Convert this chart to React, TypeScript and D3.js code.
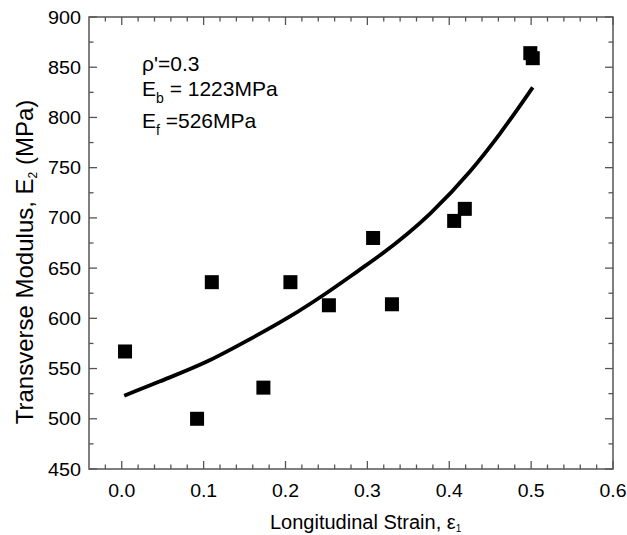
import React, { useEffect, useRef } from "react";
import * as d3 from "d3";

const strainX = [0.004, 0.092, 0.110, 0.173, 0.206, 0.253, 0.307, 0.330, 0.406, 0.419, 0.499, 0.502];
const modulusY = [567, 500, 636, 531, 636, 613, 680, 614, 697, 709, 864, 859];

const curveX = [0.003, 0.046, 0.108, 0.156, 0.205, 0.246, 0.290, 0.315, 0.377, 0.425, 0.462, 0.502];
const curveY = [523, 537, 558.5, 579, 601.6, 623, 648, 662.5, 704.6, 746, 784, 830];

const xTicks = [0, 0.1, 0.2, 0.3, 0.4, 0.5, 0.6];
const yTicks = [450, 500, 550, 600, 650, 700, 750, 800, 850, 900];

const W = 627, H = 535;
const L = 89, R = 613, T = 17, B = 469;
const FONT = "'Liberation Sans', Arial, sans-serif";
const AXIS = "#555";

export default function App() {
  const ref = useRef<SVGGElement>(null);
  useEffect(() => {
    const g = d3.select(ref.current);
    g.selectAll("*").remove();
    const x = d3.scaleLinear().domain([-0.04, 0.6]).range([L, R]);
    const y = d3.scaleLinear().domain([450, 900]).range([B, T]);

    const xMinor = d3.range(-0.02, 0.6001, 0.02).map((v) => +v.toFixed(2));
    const yMinor = d3.range(450, 901, 25);
    const tickG = g.append("g").attr("stroke", AXIS).attr("stroke-width", 1.3);
    xMinor.forEach((v) => {
      const major = xTicks.some((t) => Math.abs(t - v) < 1e-6);
      const len = major ? 8 : 4.5;
      tickG.append("line").attr("x1", x(v)).attr("x2", x(v)).attr("y1", B).attr("y2", B - len);
      tickG.append("line").attr("x1", x(v)).attr("x2", x(v)).attr("y1", T).attr("y2", T + len);
    });
    yMinor.forEach((v) => {
      const major = v % 50 === 0;
      const len = major ? 8 : 4.5;
      tickG.append("line").attr("x1", L).attr("x2", L + len).attr("y1", y(v)).attr("y2", y(v));
      tickG.append("line").attr("x1", R).attr("x2", R - len).attr("y1", y(v)).attr("y2", y(v));
    });
    g.append("rect").attr("x", L).attr("y", T).attr("width", R - L).attr("height", B - T)
      .attr("fill", "none").attr("stroke", AXIS).attr("stroke-width", 1.5);

    const fmt = d3.format(".1f");
    g.append("g").selectAll("text").data(xTicks).join("text")
      .attr("x", (d) => x(d) - 13.5).attr("y", 497)
      .attr("textLength", 27).attr("lengthAdjust", "spacingAndGlyphs")
      .attr("font-family", FONT).attr("font-size", 18).attr("fill", "#000").text((d) => fmt(d));
    g.append("g").selectAll("text").data(yTicks).join("text")
      .attr("x", 81 - 33).attr("y", (d) => y(d) + 6.5)
      .attr("textLength", 33).attr("lengthAdjust", "spacingAndGlyphs")
      .attr("font-family", FONT).attr("font-size", 18).attr("fill", "#000").text((d) => String(d));

    const line = d3.line<number>().x((d, i) => x(curveX[i])).y((d, i) => y(curveY[i])).curve(d3.curveMonotoneX);
    g.append("path").attr("d", line(curveY) as string).attr("fill", "none")
      .attr("stroke", "#000").attr("stroke-width", 3.8);

    const s = 14;
    g.append("g").selectAll("rect").data(strainX).join("rect")
      .attr("x", (d) => x(d) - s / 2).attr("y", (d, i) => y(modulusY[i]) - s / 2)
      .attr("width", s).attr("height", s).attr("fill", "#000");
  }, []);

  return (
    <svg width={W} height={H} style={{ position: "absolute", left: 0, top: 0, background: "#fff" }}>
      <g ref={ref} />
      <g fontFamily={FONT} fill="#000">
        <text x={142} y={71} fontSize={21}>ρ'=0.3</text>
        <text x={142} y={96} fontSize={21}>E<tspan fontSize={14} dy={7}>b</tspan><tspan dy={-7}> = 1223MPa</tspan></text>
        <text x={142} y={128} fontSize={21}>E<tspan fontSize={14} dy={7}>f</tspan><tspan dy={-7}> =526MPa</tspan></text>
        <text x={270} y={529} fontSize={20}>Longitudinal Strain, ε<tspan fontSize={10} dy={3}>1</tspan></text>
        <text transform="translate(33,262) rotate(-90)" textAnchor="middle" fontSize={24}>Transverse Modulus, E<tspan fontSize={12} dy={4}>2</tspan><tspan dy={-4}> (MPa)</tspan></text>
      </g>
    </svg>
  );
}
